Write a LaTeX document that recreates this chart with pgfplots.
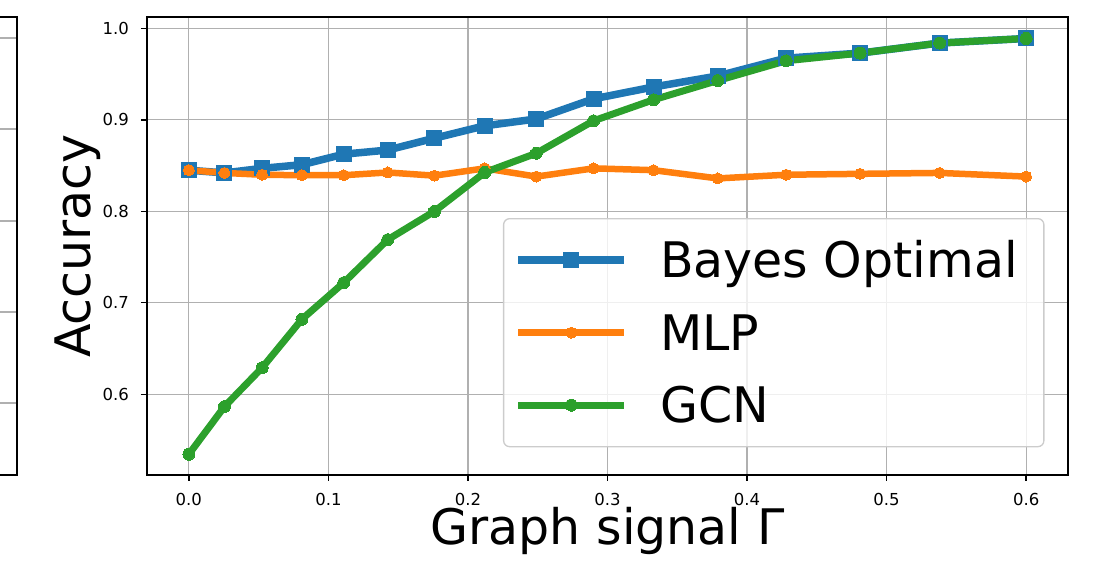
\documentclass[border=0pt]{standalone}
\usepackage{fontspec}
\setmainfont{DejaVu Sans}
\usepackage{pgfplots}
\pgfplotsset{compat=1.18}
\definecolor{tabblue}{HTML}{1F77B4}
\definecolor{taborange}{HTML}{FF7F0E}
\definecolor{tabgreen}{HTML}{2CA02C}
\definecolor{gridc}{RGB}{176,176,176}
\definecolor{legc}{RGB}{204,204,204}
\begin{document}
\begin{tikzpicture}
\useasboundingbox (0,0) rectangle (1106pt,564pt);
\clip (0,0) rectangle (1106pt,564pt);
% partial neighbouring panel on the left (cut by the picture edge)
\begin{axis}[
  at={(17pt,89pt)}, anchor=south east,
  width=300pt, height=458pt, scale only axis,
  xmin=0, xmax=1, ymin=0, ymax=458,
  xtick=\empty, ytick={72,163,254,346,437}, yticklabels={},
  ytick pos=left, ymajorgrids,
  major grid style={color=gridc, line width=1.2pt},
  axis line style={black, line width=1.5pt},
]
\end{axis}
\begin{axis}[
  at={(147pt,89pt)}, anchor=south west,
  width=921pt, height=458pt, scale only axis,
  xmin=-0.03, xmax=0.63, ymin=0.5117, ymax=1.0125,
  xtick={0,0.1,0.2,0.3,0.4,0.5,0.6},
  ytick={0.6,0.7,0.8,0.9,1.0},
  xtick pos=bottom, ytick pos=left,
  tick align=outside, major tick length=6pt,
  tick style={black, line width=1.3pt},
  grid=major,
  major grid style={color=gridc, line width=1.2pt},
  axis line style={black, line width=1.5pt},
  /pgf/number format/.cd, fixed, fixed zerofill, precision=1, assume math mode=true,
  /pgfplots/.cd,
  ticklabel style={font=\fontsize{16.5}{19}\selectfont, inner sep=0pt},
  xticklabel style={anchor=north, yshift=-12pt},
  yticklabel style={anchor=east, xshift=-12pt},
  xlabel={Graph signal Γ},
  ylabel={Accuracy},
  label style={font=\fontsize{49}{58}\selectfont},
  xlabel style={at={(axis description cs:0.5,-0.1528)}, anchor=base},
  ylabel style={at={(axis description cs:-0.0611,0.5)}, anchor=base},
  legend cell align=left,
  legend image code/.code={\draw[mark repeat=2,mark phase=2] plot coordinates {(0pt,0pt) (53pt,0pt) (106pt,0pt)};},
  legend style={at={(0.3865,0.5611)}, anchor=north west,
    draw=legc, line width=1.3pt, rounded corners=6pt,
    fill=white, fill opacity=0.8, text opacity=1,
    inner xsep=11pt, inner ysep=21pt, row sep=31.5pt, column sep=32pt,
    font=\fontsize{49}{58}\selectfont,
    nodes={inner sep=0pt, text height=38pt, text depth=3pt, anchor=west}},
]
\addplot[color=tabblue, line width=7.5pt, line join=round, mark=square*,
  mark options={solid, line width=0pt, fill=tabblue, fill opacity=1, sharp corners}, mark size=7.5pt]
coordinates {
(0,0.845) (0.0255,0.842) (0.0525,0.847) (0.081,0.851) (0.111,0.8625) (0.1425,0.867)
(0.176,0.880) (0.212,0.8935) (0.249,0.901) (0.290,0.923) (0.333,0.936) (0.379,0.948)
(0.428,0.9675) (0.481,0.973) (0.538,0.984) (0.6,0.989)};
\addlegendentry{Bayes Optimal\hspace*{15pt}}
\addplot[color=taborange, line width=6.5pt, line join=round, mark=*,
  mark options={solid, line width=0pt, fill=taborange, fill opacity=1}, mark size=5.5pt]
coordinates {
(0,0.845) (0.0255,0.842) (0.0525,0.840) (0.081,0.8395) (0.111,0.8395) (0.1425,0.8425)
(0.176,0.839) (0.212,0.847) (0.249,0.838) (0.290,0.847) (0.333,0.845) (0.379,0.836)
(0.428,0.840) (0.481,0.841) (0.538,0.842) (0.6,0.838)};
\addlegendentry{MLP}
\addplot[color=tabgreen, line width=7pt, line join=round, mark=*,
  mark options={solid, line width=0pt, fill=tabgreen, fill opacity=1}, mark size=6pt]
coordinates {
(0,0.5344) (0.0255,0.5865) (0.0525,0.629) (0.081,0.682) (0.111,0.722) (0.1425,0.769)
(0.176,0.800) (0.212,0.8425) (0.249,0.8635) (0.290,0.899) (0.333,0.922) (0.379,0.943)
(0.428,0.9646) (0.481,0.973) (0.538,0.984) (0.6,0.989)};
\addlegendentry{GCN}
\end{axis}
\end{tikzpicture}
\end{document}
